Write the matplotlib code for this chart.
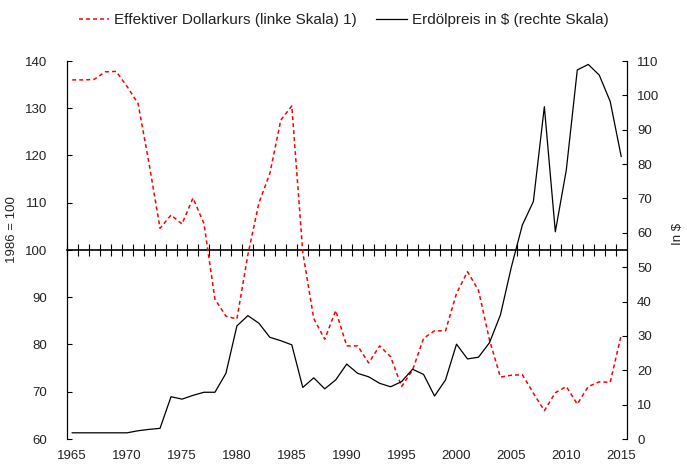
import matplotlib
matplotlib.use('Agg')
import matplotlib.pyplot as plt
import numpy as np

years = list(range(1965, 2016))

dollar_index = [136.0, 136.0, 136.1, 137.7, 137.8, 134.6, 131.0, 118.3, 104.6, 107.4,
                105.5, 111.0, 105.6, 89.6, 86.0, 85.4, 99.0, 109.9, 116.2, 127.5,
                130.5, 99.5, 85.5, 81.1, 87.2, 79.7, 79.7, 76.1, 79.7, 77.4,
                71.1, 74.6, 81.3, 82.9, 82.9, 90.8, 95.4, 91.5, 81.0, 73.1,
                73.5, 73.6, 69.7, 66.0, 69.8, 71.1, 67.4, 71.1, 72.1, 72.0,
                82.0]

oil_price = [1.8, 1.8, 1.8, 1.8, 1.8, 1.8, 2.4, 2.8, 3.1, 12.3,
             11.6, 12.7, 13.6, 13.6, 19.1, 32.9, 35.9, 33.7, 29.6, 28.6,
             27.4, 15.0, 17.8, 14.6, 17.2, 21.8, 19.1, 18.1, 16.2, 15.2,
             16.7, 20.3, 18.8, 12.5, 17.2, 27.6, 23.3, 23.8, 28.0, 36.1,
             50.1, 62.3, 69.1, 96.7, 60.3, 78.3, 107.4, 109.0, 105.9, 98.2,
             82.2]

label_years = list(range(1965, 2016, 5))
left_ticks = list(range(60, 141, 10))
right_ticks = list(range(0, 111, 10))

plt.rcParams['font.family'] = ['Liberation Sans', 'DejaVu Sans']
plt.rcParams['font.size'] = 9.5
plt.rcParams['text.color'] = '#222222'
plt.rcParams['xtick.color'] = '#222222'
plt.rcParams['ytick.color'] = '#222222'

fig = plt.figure(figsize=(6.87, 4.65), dpi=100)
ax = fig.add_axes([66.7 / 687, 1 - 439 / 465, 560 / 687, 378 / 465])
ax2 = ax.twinx()

ax.plot(years, dollar_index, color='#ff0000', lw=1.1, dashes=(2.6, 2.0),
        label='Effektiver Dollarkurs (linke Skala) 1)')
ax2.plot(years, oil_price, color='black', lw=0.9,
         label='Erdölpreis in $ (rechte Skala)')

ax.set_xlim(1964.5, 2015.5)
ax.set_ylim(60, 140)
ax2.set_ylim(0, 110)

ax.set_yticks(left_ticks)
ax2.set_yticks(right_ticks)
ax.set_xticks(label_years)

ax.tick_params(axis='y', direction='in', length=3.5, width=0.8, pad=14, colors='black', labelcolor='#222222')
ax2.tick_params(axis='y', direction='in', length=3.5, width=0.8, pad=7.5, colors='black', labelcolor='#222222')
ax.tick_params(axis='x', length=0, pad=8)

for a in (ax, ax2):
    a.spines['top'].set_visible(False)
    a.spines['bottom'].set_visible(False)
    a.spines['left'].set_linewidth(0.8)
    a.spines['right'].set_linewidth(0.8)

# horizontal axis at 100 with year tick marks crossing it
mid = ax.secondary_xaxis(0.5)
mid.set_xticks(np.arange(1964.5, 2015.5, 1.0), labels=[])
mid.tick_params(direction='inout', length=8, width=0.8, colors='black')
for s in mid.spines.values():
    s.set_linewidth(1.2)

fig.text(12 / 687, 1 - 230 / 465, '1986 = 100', rotation=90,
         ha='center', va='center', fontsize=9.5)
fig.text(678 / 687, 1 - 234 / 465, 'In $', rotation=90,
         ha='center', va='center', fontsize=9.5)

h1, l1 = ax.get_legend_handles_labels()
h2, l2 = ax2.get_legend_handles_labels()
fig.legend(h1 + h2, l1 + l2, loc='center', bbox_to_anchor=(343.5 / 687, 1 - 20 / 465),
           ncol=2, frameon=False, fontsize=11, handlelength=2.0,
           handletextpad=0.3, columnspacing=1.3)

fig.savefig('out.png', dpi=100)
